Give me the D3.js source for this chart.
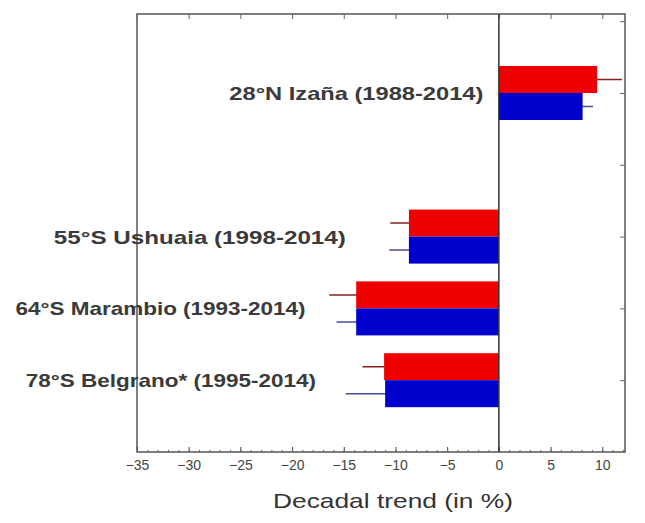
<!DOCTYPE html>
<html><head><meta charset="utf-8">
<script src="https://cdn.jsdelivr.net/npm/d3@7"></script>
<style>body{margin:0;background:#fff}svg{display:block}</style>
</head><body>
<svg id="c" width="645" height="523"></svg>
<script>
const stations = ["28°N  Izaña (1988-2014)", "55°S  Ushuaia (1998-2014)", "64°S  Marambio (1993-2014)", "78°S  Belgrano* (1995-2014)"];
const slotPos = [5, 3, 2, 1];
const redTrend = [9.5, -8.7, -13.8, -11.1];
const redErr = [2.4, 1.8, 2.6, 2.1];
const blueTrend = [8.1, -8.7, -13.8, -11.0];
const blueErr = [1.0, 1.9, 1.9, 3.8];
const xTicks = [-35, -30, -25, -20, -15, -10, -5, 0, 5, 10];

const svg = d3.select("#c");
const m = {l:137, r:625, t:14, b:452};
const x = d3.scaleLinear().domain([-35, 12.2]).range([m.l, m.r]);
const y = d3.scaleLinear().domain([0, 6.1]).range([m.b, m.t]);
const barH = 27;
const font = "Liberation Sans, Arial, sans-serif";

// frame
svg.append("rect").attr("x", m.l).attr("y", m.t).attr("width", m.r-m.l).attr("height", m.b-m.t)
  .attr("fill","none").attr("stroke","#555").attr("stroke-width",1.5);

// bottom axis
const gx = svg.append("g").attr("transform",`translate(0,${m.b})`)
  .call(d3.axisBottom(x).tickValues(xTicks).tickSize(-5).tickPadding(8).tickFormat(d3.format("d")));
gx.select(".domain").remove();
gx.selectAll("line").attr("stroke","#444");
gx.selectAll("text").attr("font-family",font).attr("font-size",14).attr("fill","#444");
const gxm = svg.append("g").attr("transform",`translate(0,${m.b})`)
  .call(d3.axisBottom(x).tickValues(d3.range(-35, 12.1, 1)).tickSize(-2).tickFormat(""));
gxm.select(".domain").remove(); gxm.selectAll("line").attr("stroke","#666");
const gt = svg.append("g").attr("transform",`translate(0,${m.t})`)
  .call(d3.axisTop(x).tickValues(xTicks).tickSize(-5).tickFormat(""));
gt.select(".domain").remove(); gt.selectAll("line").attr("stroke","#666");
const gr = svg.append("g").attr("transform",`translate(${m.r},0)`)
  .call(d3.axisRight(y).tickValues([1,2,3,4,5,6]).tickSize(-5).tickFormat(""));
gr.select(".domain").remove(); gr.selectAll("line").attr("stroke","#666");

// axis title
svg.append("text").attr("x", 393).attr("y", 508).attr("text-anchor","middle")
  .attr("font-family",font).attr("font-size",21).attr("fill","#333")
  .attr("textLength",240).attr("lengthAdjust","spacingAndGlyphs")
  .text("Decadal trend (in %)");

const data = stations.map((s,i)=>({s, k:slotPos[i], r:redTrend[i], re:redErr[i], b:blueTrend[i], be:blueErr[i]}));

function drawErr(key, errKey, dy, errColor){
  svg.append("g").selectAll("line").data(data).join("line")
    .attr("x1", d=>x(d[key]-d[errKey])).attr("x2", d=>x(d[key]+d[errKey]))
    .attr("y1", d=>y(d.k)+dy+barH/2).attr("y2", d=>y(d.k)+dy+barH/2)
    .attr("stroke", errColor).attr("stroke-width",1.5);
}
function drawBars(key, color, dy){
  svg.append("g").selectAll("rect").data(data).join("rect")
    .attr("x", d=>x(Math.min(0,d[key]))).attr("width", d=>Math.abs(x(d[key])-x(0)))
    .attr("y", d=>y(d.k)+dy).attr("height", barH).attr("fill", color);
}
drawErr("r","re",-barH,"#8a2020");
drawErr("b","be",0,"#4a4a9a");
drawBars("r","#ee0000",-barH);
drawBars("b","#0000cc",0);

// zero line
svg.append("line").attr("x1", x(0)).attr("x2", x(0)).attr("y1", m.t).attr("y2", m.b)
  .attr("stroke","#333").attr("stroke-width",1.5);

// labels
const labelEnd = [-1.5, -14.8, -18.7, -17.7];
const labelLen = [254, 292, 290, 290];
svg.append("g").selectAll("text").data(data).join("text")
  .attr("x", (d,i)=>x(labelEnd[i])).attr("y", d=>y(d.k)+7).attr("text-anchor","end")
  .attr("font-family",font).attr("font-size",19).attr("font-weight","bold").attr("fill","#3a3a3a")
  .attr("textLength",(d,i)=>labelLen[i]).attr("lengthAdjust","spacingAndGlyphs")
  .text(d=>d.s);
</script>
</body></html>
